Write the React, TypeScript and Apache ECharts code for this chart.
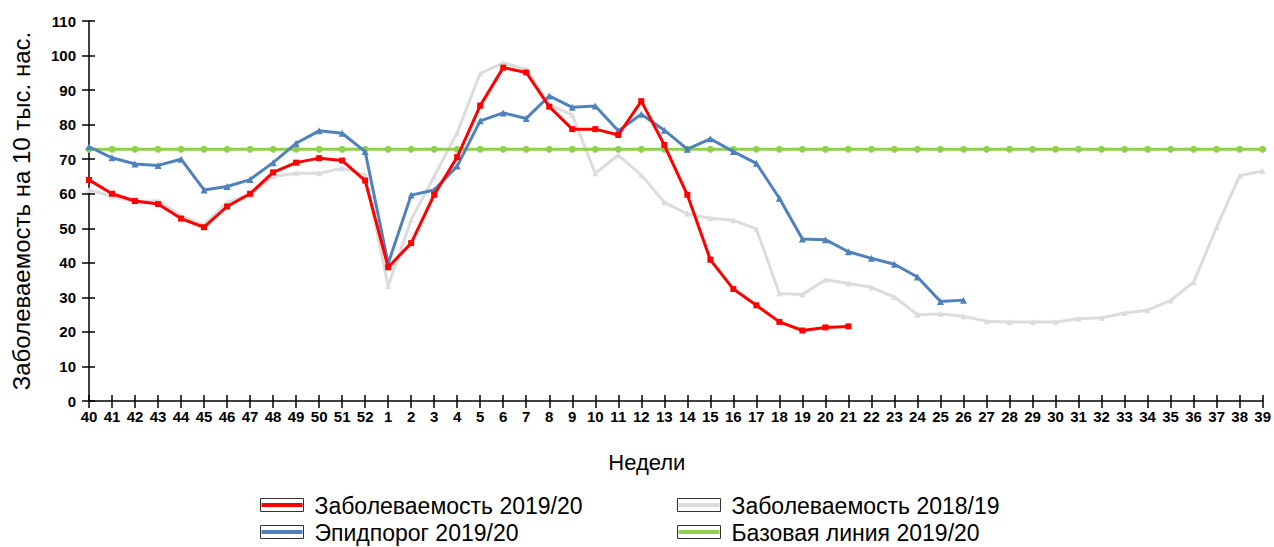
import React, { useEffect, useRef } from "react";
import * as echarts from "echarts";

const weeks: string[] = [
  "40","41","42","43","44","45","46","47","48","49","50","51","52",
  "1","2","3","4","5","6","7","8","9","10","11","12","13","14","15","16","17","18","19","20",
  "21","22","23","24","25","26","27","28","29","30","31","32","33","34","35","36","37","38","39",
];

const incidence2019: (number | null)[] = [
  64.0, 60.0, 57.9, 57.0, 52.8, 50.3, 56.3, 60.0, 66.2, 69.0, 70.3, 69.6, 63.8,
  38.7, 45.7, 59.7, 70.6, 85.5, 96.5, 95.1, 85.2, 78.7, 78.7, 77.0, 86.8, 74.1, 59.7, 40.9, 32.4, 27.7, 22.9, 20.4, 21.3,
  21.6,
];

const threshold2019: (number | null)[] = [
  73.6, 70.4, 68.6, 68.2, 70.0, 61.1, 62.1, 64.1, 69.0, 74.6, 78.2, 77.5, 72.2,
  39.8, 59.6, 61.1, 68.0, 81.1, 83.4, 81.8, 88.3, 85.0, 85.4, 78.2, 83.0, 78.4, 72.9, 75.9, 72.2, 68.8, 58.7, 46.9, 46.7,
  43.2, 41.3, 39.6, 35.9, 28.8, 29.2,
];

const incidence2018: number[] = [
  61.1, 59.2, 57.7, 58.0, 53.6, 51.0, 57.5, 59.7, 65.0, 65.9, 65.9, 67.4, 65.4,
  33.2, 52.5, 65.0, 77.7, 94.8, 97.9, 96.0, 85.7, 82.8, 65.9, 71.2, 65.4, 57.5, 54.2, 52.9, 52.3, 49.8, 31.1, 30.8, 35.1,
  34.0, 32.9, 30.1, 25.0, 25.2, 24.5, 23.1, 22.9, 22.9, 22.9, 23.8, 24.1, 25.5, 26.3, 29.1, 34.4, 50.3, 65.2, 66.6,
];

const baseline2019: number[] = weeks.map(() => 72.9);

const yTicks = { min: 0, max: 110, interval: 10 };

const seriesNames = {
  red: "Заболеваемость 2019/20",
  blue: "Эпидпорог 2019/20",
  gray: "Заболеваемость 2018/19",
  green: "Базовая линия 2019/20",
};

const COLORS = {
  red: "#ff0000",
  blue: "#4f81bd",
  gray: "#dcdcdc",
  green: "#8fd14f",
};

export default function App() {
  const ref = useRef<HTMLDivElement>(null);

  useEffect(() => {
    if (!ref.current) return;
    const chart = echarts.init(ref.current, null, { renderer: "svg" });
    const font = "Arial, 'Liberation Sans', sans-serif";
    const axisLabelStyle = { color: "#000", fontWeight: "bold" as const, fontSize: 15, fontFamily: font };

    const legendItem = (x: number, y: number, color: string, label: string) => ({
      type: "group",
      left: x,
      top: y,
      children: [
        { type: "rect", shape: { x: 0, y: 0, width: 43, height: 13 }, style: { fill: "#fff", stroke: "#333", lineWidth: 1 } },
        { type: "line", shape: { x1: 1, y1: 6.5, x2: 42, y2: 6.5 }, style: { stroke: color, lineWidth: 4 } },
        { type: "text", x: 54, y: 7, style: { text: label, fill: "#000", font: `23px ${font}`, verticalAlign: "middle" } },
      ],
    });

    chart.setOption({
      animation: false,
      backgroundColor: "#fff",
      grid: { left: 89, right: 9, top: 21, bottom: 146, containLabel: false },
      xAxis: [
        {
          type: "category",
          data: weeks,
          boundaryGap: false,
          position: "bottom",
          axisLine: { lineStyle: { color: "#000", width: 1.5 } },
          axisTick: { show: true, length: 7, alignWithLabel: true, lineStyle: { color: "#000", width: 1.5 } },
          axisLabel: { ...axisLabelStyle, margin: 8, interval: 0 },
          splitLine: { show: false },
          name: "Недели",
          nameLocation: "middle",
          nameGap: 50,
          nameTextStyle: { color: "#000", fontSize: 22, fontFamily: font, padding: [0, 58, 0, 0] },
        },
        {
          type: "category",
          data: weeks,
          boundaryGap: false,
          position: "bottom",
          axisLine: { show: false },
          axisTick: { show: true, inside: true, length: 6, lineStyle: { color: "#000", width: 1.5 } },
          axisLabel: { show: false },
          splitLine: { show: false },
        },
      ],
      yAxis: [
        {
          type: "value",
          min: yTicks.min,
          max: yTicks.max,
          interval: yTicks.interval,
          axisLine: { show: true, lineStyle: { color: "#000", width: 1.5 } },
          axisTick: { show: true, length: 7, lineStyle: { color: "#000", width: 1.5 } },
          axisLabel: { ...axisLabelStyle, margin: 13 },
          splitLine: { show: false },
          name: "Заболеваемость на 10 тыс. нас.",
          nameLocation: "middle",
          nameGap: 56,
          nameTextStyle: { color: "#000", fontSize: 24, fontFamily: font },
        },
        {
          type: "value",
          min: yTicks.min,
          max: yTicks.max,
          interval: yTicks.interval,
          position: "left",
          axisLine: { show: false },
          axisTick: { show: true, inside: true, length: 6, lineStyle: { color: "#000", width: 1.5 } },
          axisLabel: { show: false },
          splitLine: { show: false },
        },
      ],
      series: [
        {
          name: seriesNames.gray,
          type: "line",
          data: incidence2018,
          symbol: "triangle",
          symbolSize: 6,
          lineStyle: { color: COLORS.gray, width: 3 },
          itemStyle: { color: COLORS.gray },
          z: 2,
        },
        {
          name: seriesNames.green,
          type: "line",
          data: baseline2019,
          symbol: "circle",
          symbolSize: 7,
          lineStyle: { color: COLORS.green, width: 3 },
          itemStyle: { color: COLORS.green },
          z: 3,
        },
        {
          name: seriesNames.blue,
          type: "line",
          data: threshold2019,
          symbol: "triangle",
          symbolSize: 7,
          lineStyle: { color: COLORS.blue, width: 3 },
          itemStyle: { color: COLORS.blue },
          z: 4,
        },
        {
          name: seriesNames.red,
          type: "line",
          data: incidence2019,
          symbol: "rect",
          symbolSize: 6,
          lineStyle: { color: COLORS.red, width: 3 },
          itemStyle: { color: COLORS.red },
          z: 5,
        },
      ],
      graphic: [
        legendItem(259, 494, COLORS.red, seriesNames.red),
        legendItem(259, 521, COLORS.blue, seriesNames.blue),
        legendItem(676, 494, COLORS.gray, seriesNames.gray),
        legendItem(676, 521, COLORS.green, seriesNames.green),
      ],
    });
    return () => chart.dispose();
  }, []);

  return <div ref={ref} style={{ position: "absolute", left: 0, top: 0, width: 1274, height: 547 }} />;
}
